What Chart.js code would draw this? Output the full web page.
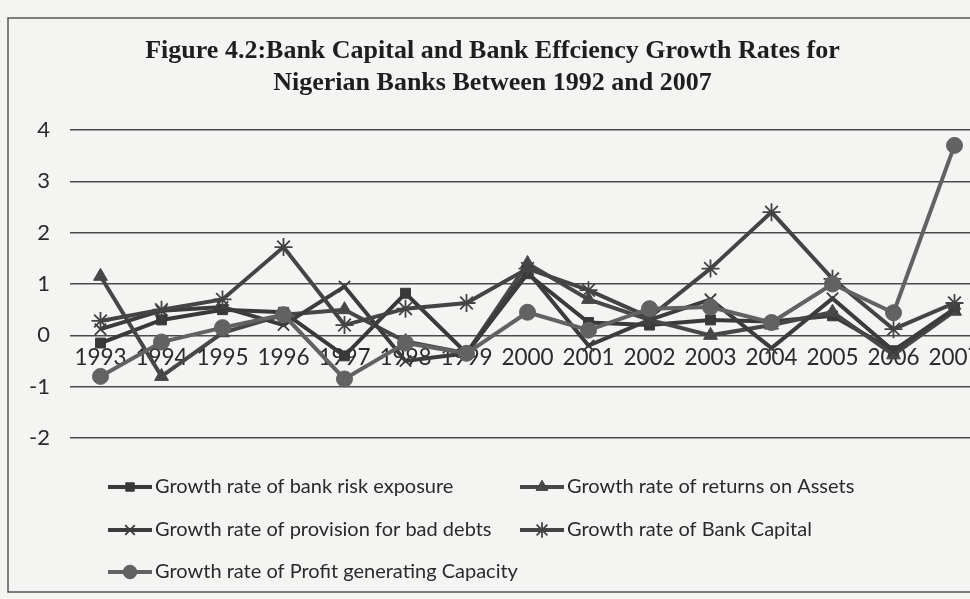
<!DOCTYPE html>
<html>
<head>
<meta charset="utf-8">
<script src="https://cdn.jsdelivr.net/npm/chart.js@4.4.0/dist/chart.umd.min.js"></script>
<style>
  html, body { margin: 0; padding: 0; background: #f4f4f2; overflow: hidden; }
</style>
</head>
<body>
<canvas id="growth" width="1000" height="599"></canvas>
<script>
// Growth rates per year (1993-2007)
const years = ['1993', '1994', '1995', '1996', '1997', '1998', '1999', '2000',
               '2001', '2002', '2003', '2004', '2005', '2006', '2007'];
const riskExposure      = [-0.15, 0.3, 0.5, 0.45, -0.4, 0.82, -0.35, 1.2, 0.25, 0.2, 0.3, 0.27, 0.38, -0.3, 0.5];
const returnOnAssets    = [1.15, -0.8, 0.05, 0.4, 0.5, -0.12, -0.35, 1.4, 0.7, 0.3, 0.0, 0.2, 0.45, -0.38, 0.47];
const provisionBadDebts = [0.12, 0.48, 0.55, 0.2, 0.95, -0.5, -0.35, 1.25, -0.2, 0.3, 0.7, -0.25, 0.72, -0.3, 0.52];
const bankCapital       = [0.28, 0.5, 0.7, 1.72, 0.2, 0.52, 0.63, 1.3, 0.88, 0.35, 1.3, 2.4, 1.1, 0.12, 0.63];
const profitCapacity    = [-0.8, -0.13, 0.15, 0.4, -0.85, -0.15, -0.35, 0.45, 0.1, 0.52, 0.55, 0.25, 1.0, 0.44, 3.7];

const titleLines = ['Figure 4.2:Bank Capital and Bank Effciency Growth Rates for',
                    'Nigerian Banks Between 1992 and 2007'];

const series = (label, data, style, color, radius, order) => ({
  label: label,
  data: data,
  borderColor: color,
  backgroundColor: color,
  borderWidth: 4,
  pointStyle: style,
  pointRadius: radius,
  pointBackgroundColor: color,
  pointBorderColor: color,
  pointBorderWidth: (style === 'crossRot' || style === 'star') ? 1.8 : 1,
  tension: 0,
  order: order
});

// frame + paper colour behind the chart
const paper = {
  id: 'paper',
  beforeDraw(chart) {
    const ctx = chart.ctx;
    ctx.save();
    ctx.fillStyle = '#f4f4f2';
    ctx.fillRect(0, 0, chart.width, chart.height);
    ctx.strokeStyle = '#555';
    ctx.lineWidth = 1.5;
    ctx.strokeRect(8, 18, chart.width + 20, 574);
    ctx.restore();
  }
};

// two-column legend under the plot
const legendSlots = [[108, 487], [520, 487], [108, 530], [520, 530], [108, 572]];
const columnLegend = {
  id: 'columnLegend',
  afterDraw(chart) {
    const ctx = chart.ctx;
    ctx.save();
    chart.data.datasets.forEach((ds, i) => {
      const [x, y] = legendSlots[i];
      ctx.strokeStyle = ds.borderColor;
      ctx.lineWidth = 4;
      ctx.beginPath();
      ctx.moveTo(x, y);
      ctx.lineTo(x + 44, y);
      ctx.stroke();
      ctx.fillStyle = ds.pointBackgroundColor;
      ctx.strokeStyle = ds.pointBorderColor;
      ctx.lineWidth = ds.pointBorderWidth;
      Chart.helpers.drawPoint(ctx, {
        pointStyle: ds.pointStyle, radius: ds.pointRadius * 0.85,
        rotation: 0, borderWidth: ds.pointBorderWidth
      }, x + 22, y);
      ctx.fillStyle = '#2a2a2a';
      ctx.font = '20px Lato';
      ctx.textBaseline = 'middle';
      ctx.textAlign = 'left';
      ctx.fillText(ds.label, x + 47, y);
    });
    ctx.restore();
  }
};

new Chart(document.getElementById('growth'), {
  type: 'line',
  data: {
    labels: years,
    datasets: [
      series('Growth rate of bank risk exposure', riskExposure, 'rect', '#393939', 7, 5),
      series('Growth rate of returns on Assets', returnOnAssets, 'triangle', '#474747', 8, 4),
      series('Growth rate of provision for bad debts', provisionBadDebts, 'crossRot', '#3c3c3c', 8, 3),
      series('Growth rate of Bank Capital', bankCapital, 'star', '#444444', 9, 2),
      series('Growth rate of Profit generating Capacity', profitCapacity, 'circle', '#626262', 8, 1)
    ]
  },
  options: {
    responsive: false,
    animation: false,
    layout: { padding: { left: 0, right: 15, top: 0, bottom: 161 } },
    scales: {
      x: {
        position: { y: 0 },
        offset: true,
        grid: { display: false, drawTicks: false, offset: true },
        border: { display: false },
        ticks: { color: '#2a2a2a', font: { family: 'Lato', size: 22.5 }, padding: 9, maxRotation: 0, autoSkip: false }
      },
      y: {
        min: -2,
        max: 4,
        afterFit(scale) { scale.width = 70; },
        grid: { color: '#4a4a4a', lineWidth: 1.5, drawTicks: false },
        border: { display: false },
        ticks: { stepSize: 1, color: '#2a2a2a', font: { family: 'Lato', size: 22 }, padding: 20 }
      }
    },
    plugins: {
      legend: { display: false },
      tooltip: { enabled: false },
      title: {
        display: true,
        text: titleLines,
        color: '#1e1e1e',
        font: { family: 'Liberation Serif', size: 26, weight: 'bold', lineHeight: 1.25 },
        padding: { top: 35, bottom: 30 }
      }
    }
  },
  plugins: [paper, columnLegend]
});
</script>
</body>
</html>
